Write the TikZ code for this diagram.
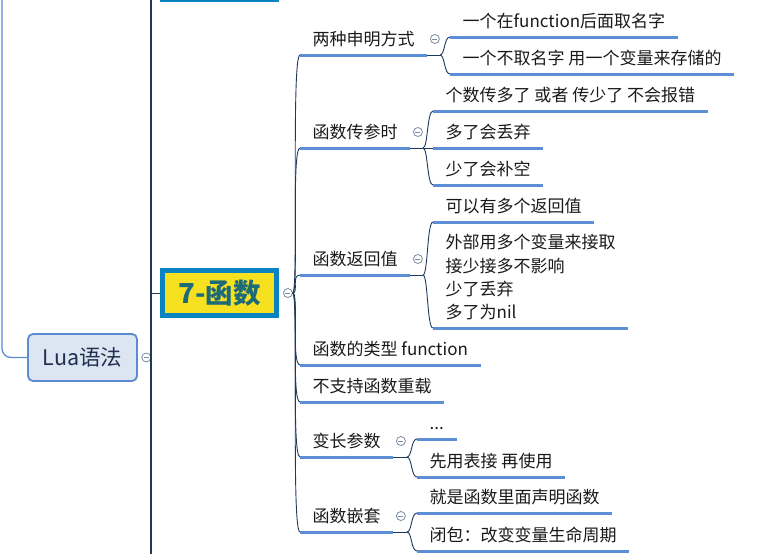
\documentclass[tikz,border=0pt]{standalone}
\usepackage{fontspec}
\setmainfont{Noto Sans CJK SC}
\usepackage{tikz}
\usetikzlibrary{positioning,calc}
\definecolor{inkline}{HTML}{1E3A5A}
\definecolor{barblue}{HTML}{5B8ED6}
\definecolor{mainblue}{HTML}{0A84C1}
\definecolor{mainfill}{HTML}{F6E01F}
\definecolor{maintext}{HTML}{1D6B78}
\definecolor{luafill}{HTML}{DCE6F2}
\definecolor{luaedge}{HTML}{5B8BD3}
\definecolor{luatext}{HTML}{1F2F4F}
\definecolor{knobgray}{HTML}{7A8CA3}

\tikzset{
  topic/.style={anchor=south west, inner xsep=12.5pt, inner ysep=6pt,
    text height=12pt, text depth=3pt, align=left, text=black!90,
    font=\fontsize{17}{23.3}\selectfont},
  underbar/.style={draw=barblue, line width=3pt},
  branch/.style={draw=inkline, line width=0.9pt},
  knob/.style={circle, draw=knobgray, fill=white, inner sep=0pt,
    minimum size=9pt, line width=0.8pt,
    path picture={\draw[knobgray, line width=0.8pt]
      ([xshift=-2.5pt]path picture bounding box.center) --
      ([xshift=2.5pt]path picture bounding box.center);}}
}

\begin{document}
\begin{tikzpicture}[x=1pt, y=-1pt]
  \useasboundingbox (0,0) rectangle (772,554);

  % left side
  \node[draw=luaedge, fill=luafill, line width=1.8pt, rounded corners=5pt,
    minimum width=109pt, minimum height=47pt, text=luatext,
    font=\fontsize{21.5}{24}\selectfont] (lua) at (82.5,357.5) {Lua语法};
  \node[knob, right=3.5pt of lua] (luaknob) {};
  \draw[draw=luaedge, line width=1.3pt, rounded corners=9pt] (2,0) |- (lua.west);
  \draw[draw=inkline, line width=1.2pt] (151,0) -- (151,554);
  \draw[draw=mainblue, line width=3pt] (160,0) -- (279,0);

  % central topic
  \node[draw=mainblue, fill=mainfill, line width=5pt, minimum width=114pt,
    minimum height=45pt, text=maintext,
    font=\fontsize{27.5}{30}\selectfont\bfseries] (fn) at (219.5,293) {7-函数};
  \node[knob, right=4pt of fn] (mainknob) {};
  \draw[branch] (151,293) -- (fn.west);

  % main branches
  \node[topic] (decl) at (300,55) {两种申明方式};
  \node[topic] (param) at (300,148) {函数传参时};
  \node[topic] (ret) at (300,275) {函数返回值};
  \node[topic] (ftype) at (300,365) {函数的类型 function};
  \node[topic] (overload) at (300,402) {不支持函数重载};
  \node[topic] (vararg) at (300,457) {变长参数};
  \node[topic] (nest) at (300,532) {函数嵌套};

  % sub topics
  \node[topic] (decl1) at (450,37) {一个在function后面取名字};
  \node[topic] (decl2) at (450,74) {一个不取名字 用一个变量来存储的};
  \node[topic] (param1) at (433,111) {个数传多了 或者 传少了 不会报错};
  \node[topic] (param2) at (433,148) {多了会丢弃};
  \node[topic] (param3) at (433,185) {少了会补空};
  \node[topic] (ret1) at (433,222) {可以有多个返回值};
  \node[topic] (ret2) at (433,328) {外部用多个变量来接取\\接少接多不影响\\少了丢弃\\多了为nil};
  \node[topic] (var1) at (417,439) {...};
  \node[topic] (var2) at (417,477) {先用表接 再使用};
  \node[topic] (nest1) at (417,513) {就是函数里面声明函数};
  \node[topic] (nest2) at (417,551) {闭包：改变变量生命周期};

  \coordinate (declfork) at (440,55);
  \coordinate (paramfork) at (423,148);
  \coordinate (retfork) at (423,275);
  \coordinate (varfork) at (407,457);
  \coordinate (nestfork) at (407,532);

  \foreach \n in {decl,param,ret,ftype,overload,vararg,nest}
    \draw[branch] (mainknob.east) .. controls +(6,0) and +(-9,0) .. (\n.south west);

  \foreach \p/\f in {decl/declfork,param/paramfork,ret/retfork,vararg/varfork,nest/nestfork}
    \draw[branch] (\p.south east) -- (\f);
  \foreach \f/\c in {declfork/decl1,declfork/decl2,paramfork/param1,paramfork/param3,
      retfork/ret1,retfork/ret2,varfork/var1,varfork/var2,nestfork/nest1,nestfork/nest2}
    \draw[branch] (\f) .. controls +(5,0) and +(-6,0) .. (\c.south west);
  \draw[branch] (paramfork) -- (param2.south west);

  \foreach \n in {decl,param,ret,ftype,overload,vararg,nest,decl1,decl2,param1,
      param2,param3,ret1,ret2,var1,var2,nest1,nest2}
    \draw[underbar] (\n.south west) -- (\n.south east);

  % collapse knobs
  \foreach \p in {decl,param,ret,vararg,nest}
    \node[knob] (\p knob) at ([shift={(7.5,-16)}]\p.south east) {};
\end{tikzpicture}
\end{document}
